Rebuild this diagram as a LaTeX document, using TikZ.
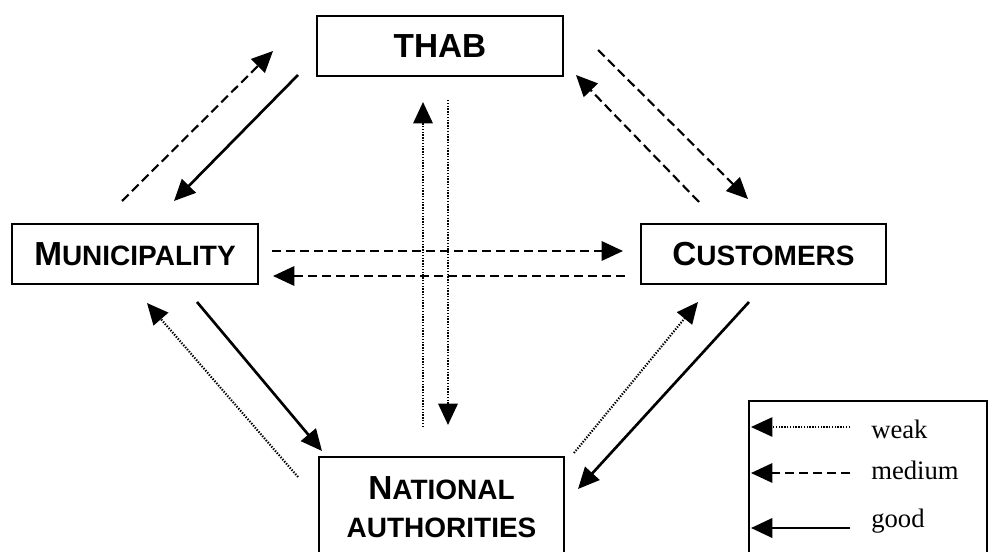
\documentclass[tikz,border=0pt]{standalone}
\usepackage{fontspec}
\setmainfont{Liberation Serif}
\newfontfamily\boxfont{Liberation Sans}
\usetikzlibrary{arrows.meta}

\newcommand{\scword}[2]{{\fontsize{25}{28}\selectfont #1}{\fontsize{21}{28}\selectfont #2}}

\begin{document}
\begin{tikzpicture}[
  x=0.75pt, y=-0.75pt,
  actor/.style={draw, line width=1.5pt, minimum width=184pt, minimum height=44.5pt, inner sep=0, align=center, font=\boxfont\bfseries\fontsize{25}{28}\selectfont},
  strong/.style={-{Triangle[length=16pt, width=14.5pt]}, line width=2pt},
  medium/.style={-{Triangle[length=16pt, width=14.5pt]}, line width=1.6pt, dash pattern=on 7pt off 3.5pt},
  weak/.style={-{Triangle[length=16pt, width=14.5pt]}, line width=1.6pt, dash pattern=on 1pt off 1.1pt},
  key/.style={anchor=base west, inner sep=0, font=\fontsize{20}{24}\selectfont},
]
\useasboundingbox (0,0) rectangle (988,552);
\clip (0,0) rectangle (988,552);

% Actors
\node[actor] (thab) at (440,46) {THAB};
\node[actor] (mun) at (135,254) {\scword{M}{UNICIPALITY}};
\node[actor] (cust) at (763.5,254) {\scword{C}{USTOMERS}};
\node[actor, minimum height=75pt] (nat) at (441.5,507) {\scword{N}{ATIONAL}\\{\fontsize{21}{28}\selectfont AUTHORITIES}};

% Arrow ends
\coordinate (mt1) at (122,201);  \coordinate (mt2) at (273,51);
\coordinate (tm1) at (298,75);   \coordinate (tm2) at (174,201);
\coordinate (tc1) at (598,50);   \coordinate (tc2) at (748,199);
\coordinate (ct1) at (699,202);  \coordinate (ct2) at (576,75);
\coordinate (mc1) at (272,251);  \coordinate (mc2) at (623,251);
\coordinate (cm1) at (625,276);  \coordinate (cm2) at (273,276);
\coordinate (nt1) at (423,427);  \coordinate (nt2) at (423,102);
\coordinate (tn1) at (448,100);  \coordinate (tn2) at (448,425);
\coordinate (nm1) at (298,477);  \coordinate (nm2) at (147,303);
\coordinate (mn1) at (197,302);  \coordinate (mn2) at (322,451);
\coordinate (nc1) at (574,453);  \coordinate (nc2) at (698,302);
\coordinate (cn1) at (749,302);  \coordinate (cn2) at (578,489);

% Municipality <-> THAB
\draw[medium] (mt1) -- (mt2);
\draw[strong] (tm1) -- (tm2);

% THAB <-> Customers
\draw[medium] (tc1) -- (tc2);
\draw[medium] (ct1) -- (ct2);

% Municipality <-> Customers
\draw[medium] (mc1) -- (mc2);
\draw[medium] (cm1) -- (cm2);

% THAB <-> National authorities
\draw[weak] (nt1) -- (nt2);
\draw[weak] (tn1) -- (tn2);

% Municipality <-> National authorities
\draw[weak]   (nm1) -- (nm2);
\draw[strong] (mn1) -- (mn2);

% Customers <-> National authorities
\draw[weak]   (nc1) -- (nc2);
\draw[strong] (cn1) -- (cn2);

% Legend
\node[draw, line width=1.5pt, minimum width=178.5pt, minimum height=116pt, inner sep=0] (legend) at (868,478.5) {};
\coordinate (kw1) at (850,427); \coordinate (kw2) at (751,427);
\coordinate (km1) at (850,473); \coordinate (km2) at (751,473);
\coordinate (kg1) at (850,528); \coordinate (kg2) at (751,528);
\draw[weak, line width=1.2pt]  (kw1) -- (kw2);
\draw[medium] (km1) -- (km2);
\draw[strong] (kg1) -- (kg2);
\node[key] (kweak) at (871,438) {weak};
\node[key] (kmed) at (871,479) {medium};
\node[key] (kgood) at (871,527) {good};

\end{tikzpicture}
\end{document}
